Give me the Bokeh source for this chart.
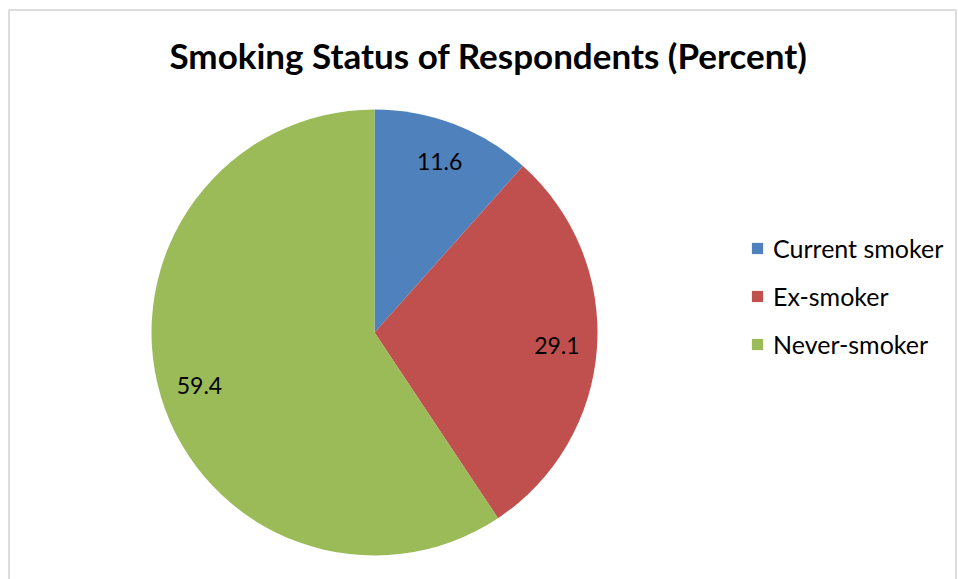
import math
from bokeh.plotting import figure
from bokeh.models import Range1d, Label, Legend, LegendItem, BoxAnnotation, ColumnDataSource
from bokeh.core.properties import value
from bokeh.embed import file_html
from bokeh.resources import INLINE

title = "Smoking Status of Respondents (Percent)"
categories = ["Current smoker", "Ex-smoker", "Never-smoker"]
percents = [11.6, 29.1, 59.4]
colors = ["#4F81BD", "#C0504D", "#9BBB59"]

W, H = 958, 579
FONT = "Lato"

p = figure(width=W, height=H, output_backend="svg", toolbar_location=None,
           x_range=Range1d(0, W), y_range=Range1d(0, H),
           min_border=0, min_border_left=0, min_border_right=0,
           min_border_top=0, min_border_bottom=0)
p.axis.visible = False
p.grid.visible = False
p.outline_line_color = None
p.background_fill_color = "white"
p.border_fill_color = "white"

# frame border (open at the bottom, like the reference crop)
p.add_layout(BoxAnnotation(left=8.5, right=955.5, top=H - 9.5, bottom=-20,
                           fill_color=None, line_color="#8C8C8C", line_width=2))

cx, cy, r = 374, H - 332, 223
total = sum(percents)
starts, ends, lx, ly, labels = [], [], [], [], []
acc = 0.0
for v in percents:
    a0 = math.pi / 2 - 2 * math.pi * acc / total
    a1 = math.pi / 2 - 2 * math.pi * (acc + v) / total
    starts.append(a0)
    ends.append(a1)
    mid = (a0 + a1) / 2
    lx.append(cx + 0.82 * r * math.cos(mid))
    ly.append(cy + 0.82 * r * math.sin(mid))
    labels.append(f"{v:.1f}")
    acc += v

src = ColumnDataSource(dict(start=starts, end=ends, color=colors, cat=categories,
                            lx=lx, ly=ly, lab=labels))
wr = p.wedge(x=cx, y=cy, radius=r, radius_units="screen", start_angle="start",
             end_angle="end", direction="clock", fill_color="color",
             line_color=None, source=src)

p.text(x="lx", y="ly", text="lab", source=src, text_font=value(FONT),
       text_font_size="23px", text_color="black", text_align="center",
       text_baseline="middle")

p.add_layout(Label(x=488, y=H - 54, text=title, text_font=FONT,
                   text_font_size="35px", text_font_style="bold",
                   text_color="black", text_align="center",
                   text_baseline="middle"))

legend = Legend(items=[LegendItem(label=c, renderers=[wr], index=i)
                       for i, c in enumerate(categories)],
                location=(750, H - 359), orientation="vertical",
                glyph_width=14, glyph_height=14, label_standoff=9,
                spacing=18, padding=0, margin=0,
                label_text_font=FONT, label_text_font_size="25px",
                label_text_color="black", border_line_color=None,
                background_fill_alpha=0)
p.add_layout(legend)

open("out.html", "w").write(file_html(p, INLINE))
